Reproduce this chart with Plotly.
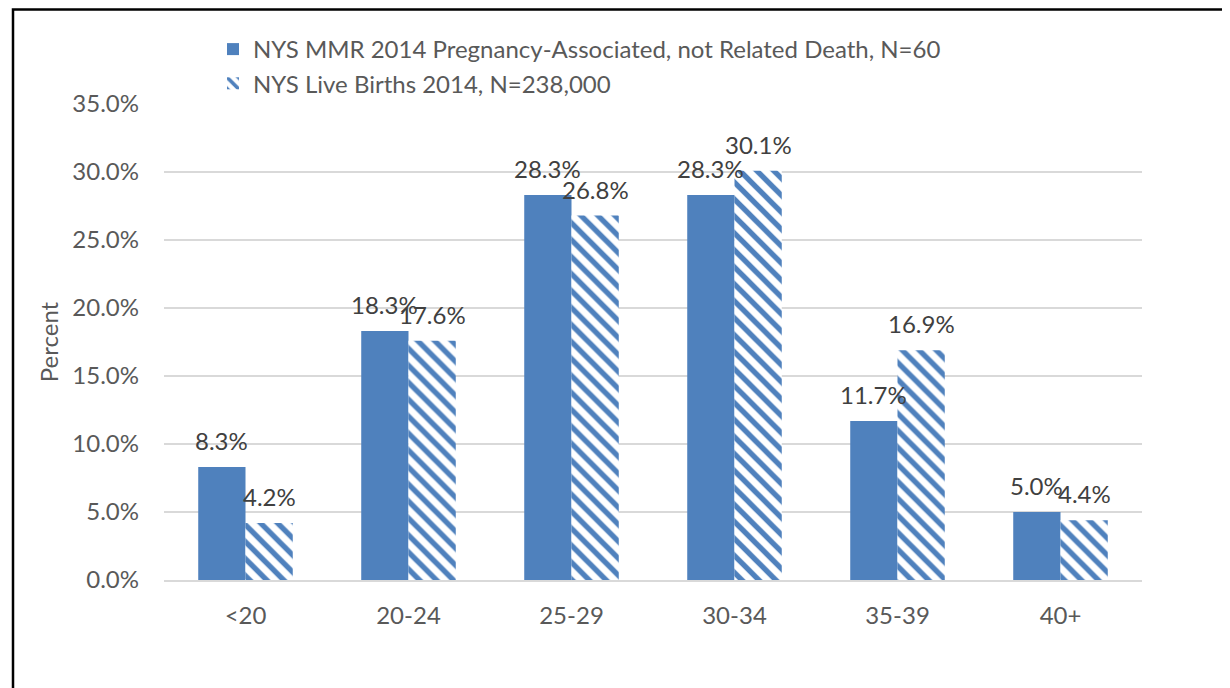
import plotly.graph_objects as go

categories = ["<20", "20-24", "25-29", "30-34", "35-39", "40+"]
mmr_values = [8.3, 18.3, 28.3, 28.3, 11.7, 5.0]
births_values = [4.2, 17.6, 26.8, 30.1, 16.9, 4.4]
series_names = ["NYS MMR 2014 Pregnancy-Associated, not Related Death, N=60",
                "NYS Live Births 2014, N=238,000"]
y_ticks = [0, 5, 10, 15, 20, 25, 30, 35]
title_text = "Figure 5. NYS MMR and the pregnancy-associated, but not related deaths by age, NYS, 2014"

BLUE = "#4f81bd"
FONT = "Lato"
FS = 24
# page has an 8px body margin; figure coordinates = page coordinates - 8
W, H = 1222, 680
L, T = 156, 96
PW, PH = 978, 476
R = W - L - PW
B = H - T - PH


def px_x(px):
    return (px - L) / PW


def px_y(py):
    return (T + PH - py) / PH


fig = go.Figure()
fig.add_trace(go.Bar(
    x=categories, y=mmr_values, name=series_names[0],
    marker=dict(color=BLUE, line=dict(width=0)),
))
fig.add_trace(go.Bar(
    x=categories, y=births_values, name=series_names[1],
    marker=dict(color="white", line=dict(width=0),
                pattern=dict(shape="\\", fgcolor=BLUE, bgcolor="white",
                             fgopacity=1, size=12, solidity=0.45,
                             fillmode="overlay")),
))

annotations = []
for cat, v in zip(categories, mmr_values):
    annotations.append(dict(x=cat, y=v, xref="x", yref="y", text=f"{v:.1f}%",
                            showarrow=False, xshift=-24, yshift=10,
                            xanchor="center", yanchor="bottom",
                            font=dict(family=FONT, size=FS, color="#404040")))
for cat, v in zip(categories, births_values):
    annotations.append(dict(x=cat, y=v, xref="x", yref="y", text=f"{v:.1f}%",
                            showarrow=False, xshift=24, yshift=10,
                            xanchor="center", yanchor="bottom",
                            font=dict(family=FONT, size=FS, color="#404040")))
annotations.append(dict(text=f"<b>{title_text}</b>", xref="paper", yref="paper",
                        x=px_x(-8), y=px_y(2), xanchor="left", yanchor="bottom",
                        showarrow=False,
                        font=dict(family="Liberation Sans", size=22, color="black")))

fig.update_layout(
    width=W, height=H,
    margin=dict(l=L, r=R, t=T, b=B),
    paper_bgcolor="white", plot_bgcolor="white",
    barmode="group", bargap=0.42, bargroupgap=0,
    font=dict(family=FONT, size=FS, color="#595959"),
    showlegend=True,
    legend=dict(x=px_x(205), y=px_y(19), xanchor="left", yanchor="top",
                font=dict(family=FONT, size=FS, color="#595959"),
                bgcolor="rgba(0,0,0,0)", itemwidth=30),
    xaxis=dict(showgrid=False, showline=True, linecolor="#d9d9d9", linewidth=2,
               ticks="", ticklabelstandoff=13,
               tickfont=dict(family=FONT, size=FS, color="#595959")),
    yaxis=dict(range=[0, 35], tickvals=y_ticks,
               ticktext=[f"{v:.1f}%" for v in y_ticks],
               showgrid=True, gridcolor="#d9d9d9", gridwidth=2,
               zeroline=False, showline=False, ticks="",
               ticklabelstandoff=24,
               tickfont=dict(family=FONT, size=FS, color="#595959")),
    shapes=[dict(type="rect", xref="paper", yref="paper",
                 x0=px_x(5), x1=px_x(1300), y0=px_y(760), y1=px_y(1.5),
                 line=dict(color="black", width=2.5), fillcolor="rgba(0,0,0,0)",
                 layer="above")],
    annotations=annotations,
)
fig.update_yaxes(title=dict(text="Percent", standoff=6,
                            font=dict(family=FONT, size=FS, color="#595959")))

fig.write_html("out.html")
